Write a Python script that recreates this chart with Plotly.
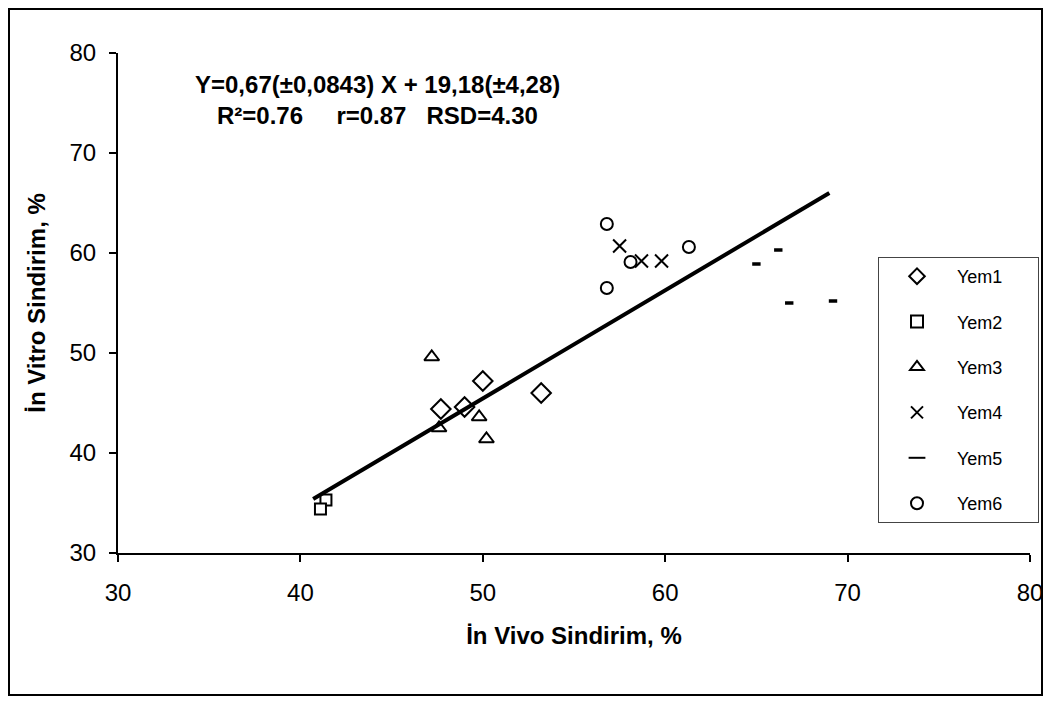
import plotly.graph_objects as go

# Data
yem1_x = [50.0, 47.7, 49.0, 53.2]
yem1_y = [47.2, 44.4, 44.6, 46.0]
yem2_x = [41.4, 41.1]
yem2_y = [35.3, 34.4]
yem3_x = [47.2, 47.6, 49.8, 50.2]
yem3_y = [49.6, 42.5, 43.6, 41.4]
yem4_x = [57.5, 58.7, 59.8]
yem4_y = [60.7, 59.2, 59.2]
yem5_x = [66.2, 65.0, 66.8, 69.2]
yem5_y = [60.3, 58.9, 55.0, 55.2]
yem6_x = [56.8, 58.1, 61.3, 56.8]
yem6_y = [62.9, 59.1, 60.6, 56.5]
fit_x = [40.7, 69.0]
fit_y = [35.4, 66.0]

x_ticks = [30, 40, 50, 60, 70, 80]
y_ticks = [30, 40, 50, 60, 70, 80]

FONT = "Arial, Liberation Sans, sans-serif"

# page pixel -> paper coordinate helpers (page has an 8px body margin)
PX0, PX1, PY0, PY1 = 118, 1030, 553, 53
def px(p):
    return (p - PX0) / (PX1 - PX0)
def py(p):
    return (PY0 - p) / (PY0 - PY1)

fig = go.Figure()

def legname(n):
    return "&nbsp;&nbsp;&nbsp;&nbsp;" + n + "&nbsp;" * 6

def add(name, xs, ys, symbol, size, lw=2):
    fig.add_trace(go.Scatter(
        x=xs, y=ys, mode="markers", name=legname(name), legendgroup=name,
        marker=dict(symbol=symbol, size=size, color="white",
                    line=dict(color="black", width=lw)),
    ))

add("Yem1", yem1_x, yem1_y, "diamond", 15)
add("Yem2", yem2_x, yem2_y, "square", 11)
add("Yem3", yem3_x, yem3_y, "triangle-up", 13)
fig.add_trace(go.Scatter(
    x=yem4_x, y=yem4_y, mode="markers", name=legname("Yem4"), legendgroup="Yem4",
    marker=dict(symbol="x-thin", size=13, color="black",
                line=dict(color="black", width=2)),
))
fig.add_trace(go.Scatter(
    x=yem5_x, y=yem5_y, mode="markers", name=legname("Yem5"), legendgroup="Yem5",
    marker=dict(symbol="line-ew", size=6, color="black",
                line=dict(color="black", width=3.5)),
))
add("Yem6", yem6_x, yem6_y, "circle", 12)

fig.add_trace(go.Scatter(
    x=fit_x, y=fit_y, mode="lines", showlegend=False,
    line=dict(color="black", width=4), hoverinfo="skip",
))

fig.update_layout(
    width=1035, height=689,
    margin=dict(l=110, r=13, t=45, b=144, autoexpand=False),
    plot_bgcolor="white", paper_bgcolor="white",
    font=dict(family=FONT, size=24, color="black"),
    showlegend=True,
    legend=dict(
        x=px(878), y=py(257), xanchor="left", yanchor="top",
        bgcolor="white", bordercolor="#444", borderwidth=1,
        font=dict(family=FONT, size=18, color="black"),
        tracegroupgap=19, itemsizing="constant", indentation=18,
    ),
    xaxis=dict(
        range=[30, 80], tickvals=x_ticks, ticktext=[str(v) for v in x_ticks],
        showgrid=False, zeroline=False, showline=True, linecolor="black",
        linewidth=2, ticks="outside", ticklen=7, tickwidth=2, tickcolor="black",
        tickfont=dict(family=FONT, size=24), ticklabelstandoff=10,
        ticklabeloverflow="allow",
        title=dict(text="<b>İn Vivo Sindirim, %</b>", standoff=22,
                   font=dict(family=FONT, size=24)),
    ),
    yaxis=dict(
        range=[30, 80], tickvals=y_ticks, ticktext=[str(v) for v in y_ticks],
        showgrid=False, zeroline=False, showline=True, linecolor="black",
        linewidth=2, ticks="outside", ticklen=7, tickwidth=2, tickcolor="black",
        tickfont=dict(family=FONT, size=24), ticklabelstandoff=8,
        ticklabeloverflow="allow",
        title=dict(text="<b>İn Vitro Sindirim, %</b>", standoff=17,
                   font=dict(family=FONT, size=24)),
    ),
)

fig.add_annotation(
    xref="paper", yref="paper", x=px(377), y=py(84),
    text="<b>Y=0,67(±0,0843) X + 19,18(±4,28)</b>", showarrow=False,
    font=dict(family=FONT, size=24), xanchor="center", yanchor="middle",
)
fig.add_annotation(
    xref="paper", yref="paper", x=px(377), y=py(115),
    text="<b>R²=0.76&nbsp;&nbsp;&nbsp;&nbsp;&nbsp;r=0.87&nbsp;&nbsp;&nbsp;RSD=4.30</b>",
    showarrow=False, font=dict(family=FONT, size=24),
    xanchor="center", yanchor="middle",
)

# outer frame
fig.add_shape(
    type="rect", xref="paper", yref="paper",
    x0=px(9), x1=px(1042), y0=py(695), y1=py(9),
    line=dict(color="black", width=2), fillcolor="rgba(0,0,0,0)", layer="below",
)

fig.write_html("out.html")
